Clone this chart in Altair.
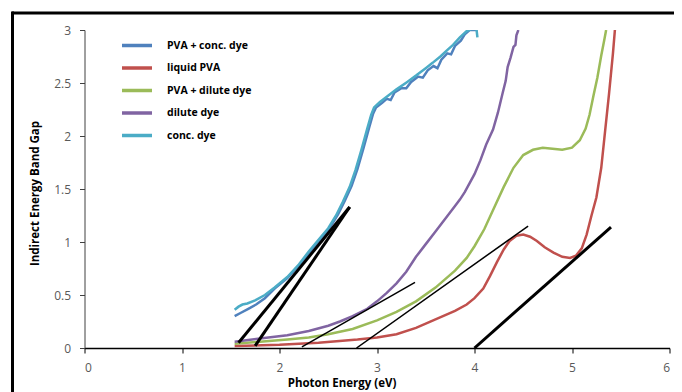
import altair as alt
import pandas as pd

# ---------------- data ----------------
series_names = ["\u00a0PVA + conc. dye", "liquid PVA", "PVA + dilute dye", "dilute dye", "conc. dye"]
series_colors = ["#4F81BD", "#C0504D", "#9BBB59", "#8064A2", "#4BACC6"]

pva_conc_x = [1.54, 1.60, 1.68, 1.76, 1.85, 1.95, 2.08, 2.20, 2.30, 2.40, 2.50, 2.60, 2.67, 2.74, 2.80, 2.86,
              2.92, 2.96, 2.99, 3.05, 3.10, 3.14, 3.18, 3.25, 3.30, 3.35, 3.42, 3.47, 3.52, 3.58, 3.62, 3.66,
              3.72, 3.76, 3.80, 3.86, 3.90, 3.95, 4.03]
pva_conc_y = [0.30, 0.33, 0.37, 0.41, 0.47, 0.56, 0.66, 0.78, 0.89, 1.00, 1.11, 1.26, 1.39, 1.53, 1.69, 1.88,
              2.08, 2.21, 2.27, 2.31, 2.35, 2.34, 2.41, 2.45, 2.45, 2.51, 2.56, 2.55, 2.62, 2.66, 2.64, 2.72,
              2.78, 2.77, 2.85, 2.90, 2.96, 3.00, 3.00]

liquid_x = [1.54, 2.00, 2.40, 2.80, 3.00, 3.20, 3.40, 3.60, 3.80, 3.92, 4.00, 4.09, 4.16, 4.23, 4.30, 4.36,
            4.43, 4.50, 4.57, 4.64, 4.72, 4.81, 4.90, 4.98, 5.04, 5.10, 5.15, 5.20, 5.25, 5.30, 5.34, 5.38,
            5.42, 5.44]
liquid_y = [0.02, 0.03, 0.05, 0.08, 0.10, 0.13, 0.19, 0.27, 0.35, 0.41, 0.47, 0.56, 0.68, 0.81, 0.93, 1.01,
            1.06, 1.07, 1.05, 1.01, 0.95, 0.90, 0.86, 0.85, 0.87, 0.94, 1.07, 1.25, 1.42, 1.70, 2.05, 2.40,
            2.78, 3.00]

pva_dil_x = [1.54, 1.80, 2.08, 2.30, 2.50, 2.75, 3.00, 3.20, 3.40, 3.60, 3.80, 3.92, 4.00, 4.10, 4.20, 4.30,
             4.40, 4.50, 4.60, 4.70, 4.80, 4.90, 5.00, 5.08, 5.14, 5.18, 5.22, 5.26, 5.30, 5.33, 5.35]
pva_dil_y = [0.04, 0.06, 0.08, 0.10, 0.13, 0.18, 0.26, 0.34, 0.44, 0.57, 0.73, 0.85, 0.96, 1.12, 1.32, 1.52,
             1.70, 1.82, 1.87, 1.89, 1.88, 1.87, 1.89, 1.96, 2.07, 2.20, 2.38, 2.55, 2.76, 2.90, 3.00]

dilute_x = [1.54, 1.80, 2.08, 2.30, 2.50, 2.62, 2.75, 2.90, 3.00, 3.10, 3.20, 3.30, 3.40, 3.50, 3.60, 3.70,
            3.80, 3.85, 3.90, 4.00, 4.06, 4.12, 4.19, 4.24, 4.29, 4.32, 4.34, 4.37, 4.40, 4.42, 4.43, 4.45]
dilute_y = [0.06, 0.09, 0.12, 0.16, 0.21, 0.25, 0.30, 0.37, 0.44, 0.52, 0.61, 0.72, 0.86, 0.98, 1.10, 1.22,
            1.34, 1.40, 1.47, 1.64, 1.77, 1.92, 2.06, 2.22, 2.41, 2.52, 2.65, 2.74, 2.84, 2.86, 2.95, 3.00]

conc_x = [1.54, 1.58, 1.62, 1.67, 1.75, 1.85, 1.95, 2.08, 2.20, 2.30, 2.40, 2.50, 2.58, 2.65, 2.72, 2.78,
          2.84, 2.90, 2.94, 2.97, 3.03, 3.10, 3.20, 3.31, 3.40, 3.50, 3.57, 3.65, 3.72, 3.78, 3.85, 3.92,
          3.97, 4.02, 4.03]
conc_y = [0.36, 0.39, 0.41, 0.42, 0.45, 0.50, 0.57, 0.67, 0.79, 0.91, 1.02, 1.13, 1.25, 1.38, 1.52, 1.68,
          1.87, 2.07, 2.20, 2.27, 2.32, 2.37, 2.44, 2.51, 2.57, 2.64, 2.69, 2.75, 2.81, 2.86, 2.93, 2.99,
          3.01, 3.01, 2.93]

# tangent (extrapolation) lines: start x, start y, end x, end y
tangent_thick_x0 = [1.58, 1.75, 4.00]
tangent_thick_y0 = [0.05, 0.02, 0.00]
tangent_thick_x1 = [2.72, 2.72, 5.40]
tangent_thick_y1 = [1.33, 1.33, 1.14]
tangent_thin_x0 = [2.23, 2.79]
tangent_thin_y0 = [0.01, 0.00]
tangent_thin_x1 = [3.39, 4.55]
tangent_thin_y1 = [0.62, 1.15]

x_ticks = [0, 1, 2, 3, 4, 5, 6]
y_ticks = [0, 0.5, 1, 1.5, 2, 2.5, 3]

# ---------------- build tables ----------------
rows = []
for name, xs, ys in zip(series_names,
                        [pva_conc_x, liquid_x, pva_dil_x, dilute_x, conc_x],
                        [pva_conc_y, liquid_y, pva_dil_y, dilute_y, conc_y]):
    for i, (xv, yv) in enumerate(zip(xs, ys)):
        rows.append({"series": name, "e": xv, "g": yv, "i": i})
df = pd.DataFrame(rows)


def seg_table(x0, y0, x1, y1, tag):
    out = []
    for k in range(len(x0)):
        out.append({"id": f"{tag}{k}", "e": x0[k], "g": y0[k], "i": 0})
        out.append({"id": f"{tag}{k}", "e": x1[k], "g": y1[k], "i": 1})
    return pd.DataFrame(out)


thick_df = seg_table(tangent_thick_x0, tangent_thick_y0, tangent_thick_x1, tangent_thick_y1, "a")
thin_df = seg_table(tangent_thin_x0, tangent_thin_y0, tangent_thin_x1, tangent_thin_y1, "b")

FONT = "Open Sans"
W, H = 585, 318
PAD_L, PAD_T, PAD_R, PAD_B = 76.5, 22, 4.5, 44

xscale = alt.Scale(domain=[0, 6], nice=False, zero=False)
yscale = alt.Scale(domain=[0, 3], nice=False, zero=False)

x_axis = alt.Axis(values=x_ticks, format="~g", grid=False, tickSize=5, tickColor="#000000",
                  domainColor="#000000", domainWidth=1.5, labelFont=FONT, labelFontSize=12,
                  labelColor="#595959", labelPadding=9,
                  titleFont=FONT, titleFontSize=11.5, titleFontWeight="bold", titleColor="#000000",
                  titleX=257, titleY=35, titleBaseline="middle", titleAlign="center")
y_axis = alt.Axis(values=y_ticks, format="~g", grid=False, tickSize=5, tickColor="#404040",
                  domainColor="#404040", labelFont=FONT, labelFontSize=12, labelColor="#595959",
                  labelPadding=9, titleFont=FONT, titleFontSize=11.5, titleFontWeight="bold",
                  titleColor="#000000", titleX=-49, titleY=163, titleBaseline="middle", titleAlign="center",
                  titleAngle=270)

curves = alt.Chart(df).mark_line(strokeWidth=2.5, clip=True).encode(
    x=alt.X("e:Q", scale=xscale, axis=x_axis, title="Photon Energy (eV)"),
    y=alt.Y("g:Q", scale=yscale, axis=y_axis, title="Indirect Energy Band Gap"),
    color=alt.Color("series:N", scale=alt.Scale(domain=series_names, range=series_colors),
                    legend=alt.Legend(orient="none", legendX=35.5, legendY=9.5, title=None,
                                      symbolType="stroke", symbolSize=900, symbolStrokeWidth=3.5,
                                      clipHeight=12, rowPadding=10.5, labelOffset=13, padding=0,
                                      labelFont=FONT, labelFontSize=10.5, labelFontWeight="bold",
                                      labelColor="#000000")),
    order="i:Q",
)

thick = alt.Chart(thick_df).mark_line(color="#000000", strokeWidth=3, clip=True).encode(
    x=alt.X("e:Q", scale=xscale), y=alt.Y("g:Q", scale=yscale), detail="id:N", order="i:Q")
thin = alt.Chart(thin_df).mark_line(color="#000000", strokeWidth=1.5, clip=True).encode(
    x=alt.X("e:Q", scale=xscale), y=alt.Y("g:Q", scale=yscale), detail="id:N", order="i:Q")

one = pd.DataFrame({"k": [0]})
frame_top = alt.Chart(one).mark_rule(color="#000000", strokeWidth=3).encode(
    x=alt.value(-72.5), x2=alt.value(W + PAD_R), y=alt.value(-17))
frame_left = alt.Chart(one).mark_rule(color="#000000", strokeWidth=3).encode(
    x=alt.value(-72), y=alt.value(-18.5), y2=alt.value(H + PAD_B))

chart = alt.layer(frame_top, frame_left, curves, thick, thin).properties(
    width=W, height=H,
    autosize=alt.AutoSizeParams(type="none"),
    padding={"left": PAD_L, "top": PAD_T, "right": PAD_R, "bottom": PAD_B},
    background="#ffffff",
).configure_view(stroke=None)

chart.save("out.html", embed_options={"renderer": "svg", "actions": False})
